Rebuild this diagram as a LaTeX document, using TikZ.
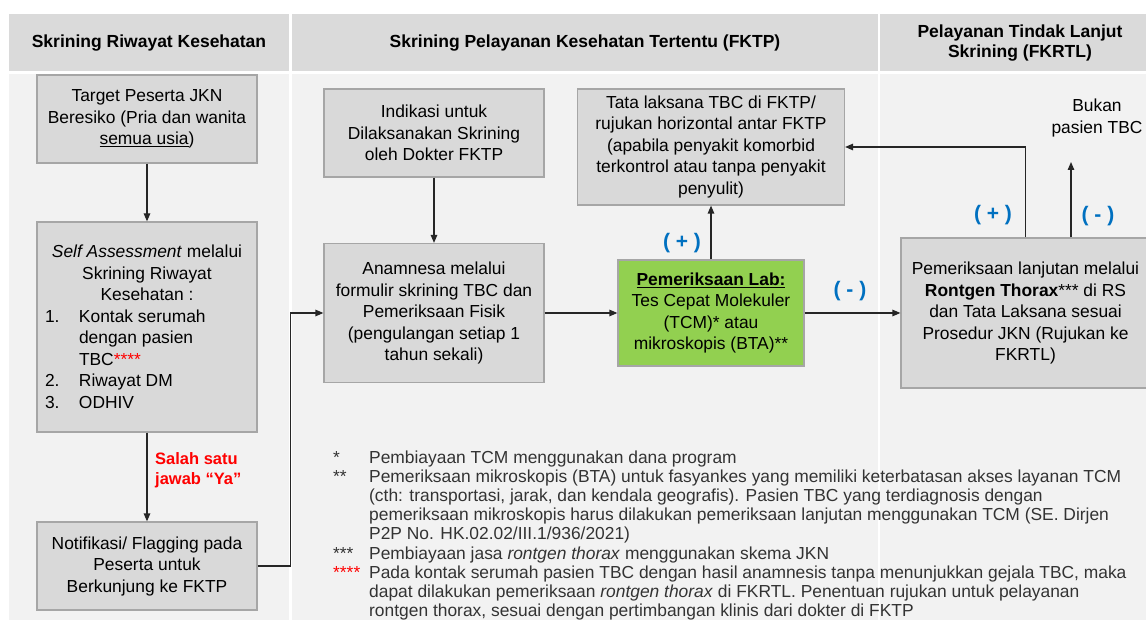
\documentclass[tikz,border=0pt]{standalone}
\usepackage{fontspec}
\setmainfont{Liberation Sans}
\usetikzlibrary{arrows.meta}
\definecolor{hdr}{HTML}{DADADA}
\definecolor{bodybg}{HTML}{F2F2F2}
\definecolor{boxfill}{HTML}{D9D9D9}
\definecolor{boxline}{HTML}{A6A6A6}
\definecolor{labgreen}{HTML}{92D050}
\definecolor{plusblue}{HTML}{0070C0}
\definecolor{lineclr}{HTML}{262626}
\definecolor{notecl}{HTML}{333333}
\newcommand\bxfont{\fontsize{17.4}{21.5}\selectfont}
\newcommand\hdfont{\fontsize{17.5}{20}\selectfont\bfseries}
\newcommand\ntfont{\fontsize{17.4}{19.1}\selectfont}
\begin{document}
\begin{tikzpicture}[x=1pt,y=-1pt,
  box/.style={draw=boxline, line width=1.2pt, fill=boxfill, align=center, inner sep=0pt, font=\bxfont, text=black},
  hdrtext/.style={font=\hdfont, align=center, inner sep=0pt},
  arr/.style={draw=lineclr, line width=1.2pt, -{Triangle[length=8pt,width=6.5pt]}},
  pm/.style={text=plusblue, font=\fontsize{21}{24}\selectfont\bfseries, inner sep=0pt},
  redlbl/.style={text=red, font=\fontsize{16.5}{20}\selectfont\bfseries, align=left, inner sep=0pt}]
\useasboundingbox (0,0) rectangle (1146,620);
\fill[white] (0,0) rectangle (1146,620);
% column backgrounds
\fill[hdr] (9,14) rectangle (289,71);
\fill[hdr] (292,14) rectangle (878,71);
\fill[hdr] (880,14) rectangle (1146,71);
\fill[bodybg] (9,74) rectangle (289,620);
\fill[bodybg] (292,74) rectangle (878,620);
\fill[bodybg] (880,74) rectangle (1146,620);
% headers
\node[hdrtext] (h1) at (149,43) {Skrining Riwayat Kesehatan};
\node[hdrtext] (h2) at (585,43) {Skrining Pelayanan Kesehatan Tertentu (FKTP)};
\node[hdrtext] (h3) at (1020,43) {Pelayanan Tindak Lanjut\\Skrining (FKRTL)};
% boxes
\node[box, minimum width=220pt, minimum height=88pt] (target) at (147,119)
  {Target Peserta JKN\\Beresiko (Pria dan wanita\\\underline{semua usia})};
\node[box, minimum width=220pt, minimum height=210pt] (self) at (147,327) {};
\node[inner sep=0pt, font=\bxfont] (selftxt) at (147,327) {\parbox{204pt}{\centering\textit{Self Assessment} melalui\\Skrining Riwayat\\Kesehatan :\par
\raggedright
\makebox[34pt][l]{1.}Kontak serumah\\
\hspace*{34pt}dengan pasien\\
\hspace*{34pt}TBC\textcolor{red}{****}\\
\makebox[34pt][l]{2.}Riwayat DM\\
\makebox[34pt][l]{3.}ODHIV}};
\node[box, minimum width=220pt, minimum height=88pt] (notif) at (147,566)
  {Notifikasi/ Flagging pada\\Peserta untuk\\Berkunjung ke FKTP};
\node[box, minimum width=220pt, minimum height=88pt] (indik) at (434,133)
  {Indikasi untuk\\Dilaksanakan Skrining\\oleh Dokter FKTP};
\node[box, minimum width=220pt, minimum height=139pt] (anam) at (434,313)
  {Anamnesa melalui\\formulir skrining TBC dan\\Pemeriksaan Fisik\\(pengulangan setiap 1\\tahun sekali)};
\node[box, minimum width=267pt, minimum height=116pt] (tata) at (711,147)
  {Tata laksana TBC di FKTP/\\rujukan horizontal antar FKTP\\(apabila penyakit komorbid\\terkontrol atau tanpa penyakit\\penyulit)};
\node[box, fill=labgreen, minimum width=186pt, minimum height=106pt] (lab) at (711,313)
  {\textbf{\underline{Pemeriksaan Lab:}}\\Tes Cepat Molekuler\\(TCM)* atau\\mikroskopis (BTA)**};
\node[box, minimum width=249pt, minimum height=150pt] (ront) at (1025.5,313)
  {Pemeriksaan lanjutan melalui\\\textbf{Rontgen Thorax}*** di RS\\dan Tata Laksana sesuai\\Prosedur JKN (Rujukan ke\\FKRTL)};
\node[align=center, inner sep=0pt, font=\bxfont] (bukan) at (1097,118) {Bukan\\pasien TBC};
\coordinate (bk) at (1071,162);
% connectors
\draw[arr] (target) -- (self);
\draw[arr] (self) -- (notif);
\draw[arr] (notif.east) -- ++(33,0) |- (anam.west);
\draw[arr] (indik) -- (anam);
\draw[arr] (anam) -- (lab);
\draw[arr] (lab) -- (tata);
\draw[arr] (lab) -- (ront);
\draw[arr] (ront.north) |- (tata.east);
\draw[arr] (ront.north -| bk) -- (bk);
% labels
\node[redlbl, anchor=west] (ya) at (155,470) {Salah satu\\jawab “Ya”};
\node[pm] (p1) at (682,243) {( + )};
\node[pm] (m1) at (850,291) {( - )};
\node[pm] (p2) at (993,215) {( + )};
\node[pm] (m2) at (1098,216) {( - )};
% footnotes
\node[anchor=north west, inner sep=0pt, font=\ntfont, text=notecl] (notes) at (333,450)
{\begin{tabular}{@{}p{36pt}@{}l@{}}
{*} & Pembiayaan TCM menggunakan dana program\\
{**} & Pemeriksaan mikroskopis (BTA) untuk fasyankes yang memiliki keterbatasan akses layanan TCM\\
{} & (cth: transportasi, jarak, dan kendala geografis). Pasien TBC yang terdiagnosis dengan\\
{} & pemeriksaan mikroskopis harus dilakukan pemeriksaan lanjutan menggunakan TCM (SE. Dirjen\\
{} & P2P No. HK.02.02/III.1/936/2021)\\
{***} & Pembiayaan jasa \textit{rontgen thorax} menggunakan skema JKN\\
\textcolor{red}{****} & Pada kontak serumah pasien TBC dengan hasil anamnesis tanpa menunjukkan gejala TBC, maka\\
{} & dapat dilakukan pemeriksaan \textit{rontgen thorax} di FKRTL. Penentuan rujukan untuk pelayanan\\
{} & rontgen thorax, sesuai dengan pertimbangan klinis dari dokter di FKTP
\end{tabular}};
\end{tikzpicture}
\end{document}
